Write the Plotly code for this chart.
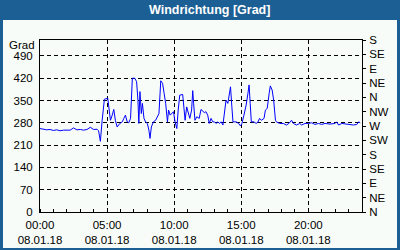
import plotly.graph_objects as go
import pandas as pd

# ---- data ----
times = ["00:00","00:15","00:30","00:45","01:00","01:15","01:30","01:45","02:00","02:15",
         "02:30","02:45","03:00","03:15","03:30","03:45","04:00","04:15","04:22","04:30",
         "04:38","04:48","05:03","05:10","05:15","05:23","05:30","05:37","05:45","05:57",
         "06:08","06:15","06:22","06:30","06:37","06:45","06:53","07:04","07:12","07:18",
         "07:22","07:27","07:33","07:38","07:45","07:52","08:00","08:07","08:12","08:18",
         "08:27","08:37","08:45","08:52","09:00","09:08","09:15","09:22","09:30","09:35",
         "09:42","09:50","09:57","10:04","10:12","10:18","10:25","10:38","10:45","10:49",
         "10:56","11:00","11:10","11:18","11:23","11:27","11:33","11:41","11:52","12:00",
         "12:08","12:15","12:22","12:30","12:37","12:45","12:53","13:00","13:07","13:15",
         "13:22","13:30","13:38","13:45","13:52","14:00","14:07","14:12","14:18","14:23",
         "14:37","14:48","14:57","15:03","15:12","15:22","15:30","15:35","15:40","15:45",
         "15:57","16:07","16:15","16:22","16:30","16:42","16:48","16:56","17:05","17:10",
         "17:18","17:25","17:33","17:37","17:52","18:08","18:22","18:33","18:45","18:53",
         "19:07","19:22","19:30","19:45","20:00","20:15","20:30","20:45","21:00","21:15",
         "21:37","22:00","22:07","22:15","22:30","23:00","23:22","23:37","23:45","23:52"]
values = [262,260,258,259,256,258,255,257,256,257,
          264,258,259,257,259,266,259,260,255,222,
          288,354,357,320,288,304,322,288,267,278,
          283,294,304,283,280,294,420,420,409,351,
          278,378,309,341,294,283,278,257,231,267,
          283,288,299,309,412,404,373,341,283,320,
          304,309,315,283,262,320,367,369,325,288,
          330,320,294,320,381,341,288,299,294,322,
          315,312,315,304,278,294,283,283,278,283,
          278,283,273,320,351,341,373,393,330,283,
          283,278,270,278,304,336,373,399,341,283,
          283,278,283,294,288,294,320,325,373,396,
          383,351,288,283,278,278,273,278,288,278,
          273,278,273,278,278,280,275,278,275,278,
          276,278,283,273,278,276,273,275,283,280]
date = "2018-01-08"
left_ticks = [0, 70, 140, 210, 280, 350, 420, 490]
right_ticks = [0, 45, 90, 135, 180, 225, 270, 315, 360, 405, 450, 495, 540]
right_labels = ["N","NE","E","SE","S","SW","W","NW","N","NE","E","SE","S"]
x_hours = [0, 5, 10, 15, 20]
x_labels = ["%02d:00<br>08.01.18" % h for h in x_hours]

x = pd.to_datetime([f"{date} {t}" for t in times])

BLUE = "#1c5f94"
BG = "#f8fcf8"
FONT = "Liberation Sans"

fig = go.Figure()
fig.add_trace(go.Scatter(x=x, y=values, mode="lines",
                         line=dict(color="#0000ff", width=1), hoverinfo="skip",
                         showlegend=False))
fig.add_trace(go.Scatter(x=[x[0]], y=[0], yaxis="y2", mode="markers",
                         marker=dict(opacity=0), showlegend=False, hoverinfo="skip"))

L, R, T, B = 40, 38, 40, 38
PW, PH = 400 - L - R, 250 - T - B

def px(xp):
    return (xp - L) / PW

def py(yp):
    return (250 - B - yp) / PH

fig.update_layout(
    width=400, height=250,
    margin=dict(l=L, r=R, t=T, b=B, pad=0, autoexpand=False),
    paper_bgcolor=BLUE, plot_bgcolor=BG,
    font=dict(family=FONT, size=11.5, color="black"),
    showlegend=False,
    xaxis=dict(
        type="date", automargin=False,
        range=[f"{date} 00:00", "2018-01-09 00:00"],
        tickmode="array",
        tickvals=pd.to_datetime([f"{date} {h:02d}:00" for h in x_hours]),
        ticktext=x_labels,
        ticks="", showgrid=True, gridcolor="black", griddash="4px,3px", gridwidth=1,
        showline=True, linecolor="black", linewidth=1, mirror=True,
        zeroline=False,
        minor=dict(tickmode="linear", tick0=f"{date} 00:00", dtick=3600000,
                   ticks="inside", ticklen=3, tickcolor="black", showgrid=False),
        ticklabelstandoff=2,
    ),
    yaxis=dict(
        range=[0, 540], tickmode="array", tickvals=left_ticks, automargin=False,
        ticks="", showgrid=True, gridcolor="black", griddash="4px,3px", gridwidth=1,
        showline=True, linecolor="black", linewidth=1, mirror=True,
        zeroline=False, ticklabelstandoff=4,
    ),
    yaxis2=dict(
        range=[0, 540], overlaying="y", side="right", automargin=False,
        tickmode="array", tickvals=right_ticks, ticktext=right_labels,
        ticks="outside", ticklen=3, tickcolor="black",
        showgrid=False, zeroline=False, showline=False,
        ticklabelstandoff=1,
    ),
)

fig.add_shape(type="rect", xref="paper", yref="paper",
              x0=px(3), x1=px(397), y0=py(248), y1=py(20),
              fillcolor=BG, line=dict(width=0), layer="below")

fig.add_annotation(text="<b>Windrichtung [Grad]</b>", xref="paper", yref="paper",
                   x=px(209.5), y=py(10), xanchor="center", yanchor="middle",
                   showarrow=False, font=dict(family=FONT, size=12.5, color="white"))
fig.add_annotation(text="Grad", xref="paper", yref="paper",
                   x=px(36.5), y=py(45), xanchor="right", yanchor="middle",
                   showarrow=False, font=dict(family=FONT, size=11.5, color="black"))

fig.write_html("out.html")
